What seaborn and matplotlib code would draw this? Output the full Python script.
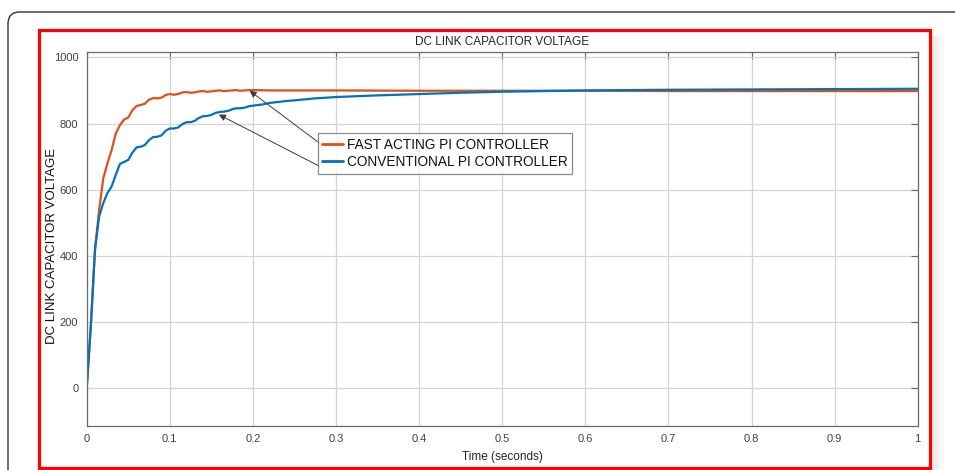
import numpy as np
import pandas as pd
import seaborn as sns
import matplotlib
matplotlib.use("Agg")
import matplotlib.pyplot as plt
from matplotlib.patches import Rectangle, FancyBboxPatch
from matplotlib.transforms import IdentityTransform

# ---------------- data ----------------
title = "DC LINK CAPACITOR VOLTAGE"
ylabel = "DC LINK CAPACITOR VOLTAGE"
xlabel = "Time (seconds)"
series_names = ["FAST ACTING PI CONTROLLER", "CONVENTIONAL PI CONTROLLER"]

fast_t = [0.000, 0.005, 0.010, 0.015, 0.020, 0.025, 0.030, 0.035, 0.040, 0.045,
          0.050, 0.055, 0.060, 0.065, 0.070, 0.075, 0.080, 0.085, 0.090, 0.095,
          0.100, 0.105, 0.110, 0.115, 0.120, 0.125, 0.130, 0.135, 0.140, 0.145,
          0.150, 0.155, 0.160, 0.165, 0.170, 0.175, 0.180, 0.185, 0.190, 0.195,
          0.200, 0.220, 0.250, 0.300, 0.400, 0.500, 0.600, 0.700, 0.800, 0.900, 1.000]
fast_v = [0, 190, 420, 540, 635, 680, 720, 770, 795, 812,
          818, 840, 853, 856, 860, 872, 877, 876, 878, 886,
          889, 887, 889, 894, 895, 893, 894, 897, 898, 896,
          897, 899, 900, 898, 899, 900, 901, 899, 900, 901,
          901, 900, 900, 900, 899, 899, 899, 898, 898, 898, 898]

conv_t = [0.000, 0.005, 0.010, 0.015, 0.020, 0.025, 0.030, 0.035, 0.040, 0.045,
          0.050, 0.055, 0.060, 0.065, 0.070, 0.075, 0.080, 0.085, 0.090, 0.095,
          0.100, 0.105, 0.110, 0.115, 0.120, 0.125, 0.130, 0.135, 0.140, 0.145,
          0.150, 0.155, 0.160, 0.165, 0.170, 0.175, 0.180, 0.185, 0.190, 0.195,
          0.200, 0.210, 0.220, 0.230, 0.240, 0.250, 0.275, 0.300, 0.350, 0.400,
          0.450, 0.500, 0.550, 0.600, 0.700, 0.800, 0.900, 1.000]
conv_v = [0, 190, 420, 520, 560, 590, 610, 645, 678, 684,
          690, 712, 728, 730, 735, 750, 759, 760, 764, 778,
          785, 785, 788, 798, 804, 804, 808, 817, 822, 823,
          826, 832, 835, 836, 838, 843, 846, 846, 848, 852,
          854, 857, 862, 865, 868, 870, 876, 880, 885, 889,
          893, 896, 898, 900, 902, 903, 904, 905]

x_ticks = [0, 0.1, 0.2, 0.3, 0.4, 0.5, 0.6, 0.7, 0.8, 0.9, 1]
x_tick_labels = ["0", "0.1", "0.2", "0.3", "0.4", "0.5", "0.6", "0.7", "0.8", "0.9", "1"]
y_ticks = [0, 200, 400, 600, 800, 1000]

# arrow targets / tails (data coords)
arrow_fast_head = (0.196, 899)
arrow_fast_tail = (0.282, 737)
arrow_conv_head = (0.159, 827)
arrow_conv_tail = (0.280, 671)

# ---------------- build table ----------------
df = pd.concat([
    pd.DataFrame({"t": fast_t, "v": fast_v, "series": series_names[0]}),
    pd.DataFrame({"t": conv_t, "v": conv_v, "series": series_names[1]}),
], ignore_index=True)

sns.set_style("white")
plt.rcParams["font.family"] = ["Liberation Sans", "DejaVu Sans"]

W, H = 955, 470
fig = plt.figure(figsize=(W / 100, H / 100), dpi=100)
fig.patch.set_facecolor("white")

ax = fig.add_axes([86.7 / W, (H - 426) / H, (917.7 - 86.7) / W, (426 - 51.7) / H])

palette = {series_names[0]: "#D95319", series_names[1]: "#0072BD"}
sns.lineplot(data=df, x="t", y="v", hue="series", palette=palette,
             hue_order=series_names, linewidth=1.6, ax=ax, sort=False,
             estimator=None, legend=True)

ax.set_xlim(0, 1)
ax.set_ylim(-114, 1017)
ax.set_xticks(x_ticks)
ax.set_xticklabels(x_tick_labels)
ax.set_yticks(y_ticks)
ax.grid(True, color="#d4d4d4", linewidth=0.9)
ax.set_axisbelow(True)
for s in ax.spines.values():
    s.set_color("#6a6a6a")
    s.set_linewidth(0.9)
ax.tick_params(direction="in", length=5, width=0.8, color="#6a6a6a",
               labelsize=8, labelcolor="#404040", top=True, right=True,
               pad=6)
ax.set_title(title, fontsize=8.5, color="#222222", pad=5)
ax.set_xlabel(xlabel, fontsize=8.5, color="#222222", labelpad=5)
ax.set_ylabel(ylabel, fontsize=9.5, color="#111111")
ax.yaxis.set_label_coords(-0.034, 0.48)

leg = ax.legend(loc="upper left", bbox_to_anchor=(0.278, 0.783),
                borderaxespad=0, fancybox=False, frameon=True,
                fontsize=9.8, handlelength=1.5, handletextpad=0.3,
                borderpad=0.35, labelspacing=0.25)
leg.get_frame().set_edgecolor("#707070")
leg.get_frame().set_linewidth(0.9)
for ln in leg.get_lines():
    ln.set_linewidth(2.0)
for txt in leg.get_texts():
    txt.set_color("#111111")

arrow_kw = dict(arrowstyle="-|>", color="#3a3a3a", lw=0.7,
                mutation_scale=10, shrinkA=0, shrinkB=0)
ax.annotate("", xy=arrow_fast_head, xytext=arrow_fast_tail, arrowprops=arrow_kw)
ax.annotate("", xy=arrow_conv_head, xytext=arrow_conv_tail, arrowprops=arrow_kw)

# ---------------- frames ----------------
ident = IdentityTransform()
outer = FancyBboxPatch((8, -60), 1100, H - 12 + 60,
                       boxstyle="round,pad=0,rounding_size=12",
                       facecolor="none", edgecolor="#333333", linewidth=1.0,
                       transform=ident)
fig.add_artist(outer)
# soft shadow right of red frame
for i, a in enumerate([0.18, 0.12, 0.07, 0.04]):
    fig.add_artist(Rectangle((932 + 3 * i, 0), 3, H - 36, facecolor="#808080",
                             edgecolor="none", alpha=a, transform=ident))
red = Rectangle((38.5, H - 468), 930 - 38.5, 468 - 29.5, facecolor="none",
                edgecolor="#ff0000", linewidth=2.3, transform=ident)
fig.add_artist(red)

fig.savefig("out.png", dpi=100)
